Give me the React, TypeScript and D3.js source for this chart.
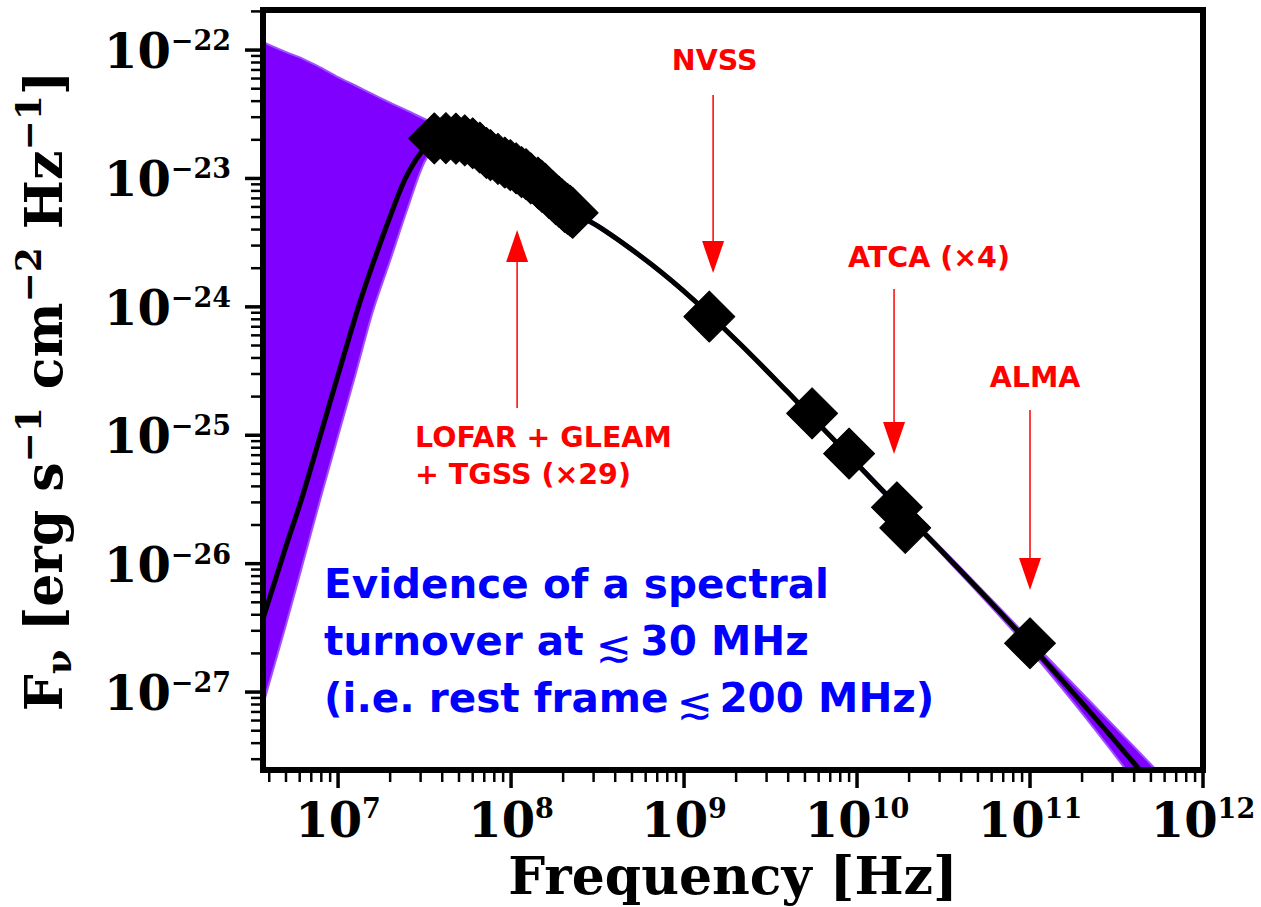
import React from "react";
import * as d3 from "d3";

const W = 1261;
const H = 907;
const PLOT = { left: 263, right: 1203, top: 10, bottom: 770 };

// Best-fit model curve (log10 frequency [Hz], log10 flux density)
const modelLogNu = [6.566, 6.7, 6.786, 6.9, 7.0, 7.127, 7.2, 7.3, 7.4, 7.5, 7.6, 7.7, 7.8, 8.0, 8.2, 8.4, 8.518, 8.807, 9.055, 9.327, 9.598, 9.864, 10.118, 10.539, 11.007, 11.619, 12.0];
const modelLogF = [-26.43, -25.86, -25.51, -24.99, -24.53, -23.96, -23.67, -23.3, -22.97, -22.77, -22.69, -22.715, -22.765, -22.9, -23.08, -23.29, -23.385, -23.665, -23.945, -24.293, -24.662, -25.032, -25.39, -25.971, -26.64, -27.582, -28.21];

// Envelope of the posterior sample curves
const bandLogNu = [6.566, 6.7, 6.8, 6.9, 7.0, 7.1, 7.2, 7.3, 7.4, 7.5, 7.6, 7.7, 7.8, 8.0, 8.2, 8.4, 8.518, 8.807, 9.055, 9.327, 9.598, 9.864, 10.118, 10.539, 11.007, 11.619, 12.0];
const bandUpperLogF = [-21.938, -22.016, -22.07, -22.136, -22.21, -22.276, -22.343, -22.409, -22.471, -22.537, -22.6, -22.66, -22.73, -22.88, -23.065, -23.275, -23.372, -23.653, -23.933, -24.28, -24.648, -25.017, -25.373, -25.948, -26.6, -27.45, -27.99];
const bandLowerLogF = [-27.1, -26.47, -25.98, -25.485, -25.006, -24.53, -24.04, -23.643, -23.24, -22.872, -22.72, -22.74, -22.79, -22.92, -23.095, -23.305, -23.398, -23.677, -23.957, -24.306, -24.676, -25.047, -25.407, -25.995, -26.685, -27.72, -28.43];

// Observed photometry: LOFAR + GLEAM + TGSS (x29), NVSS, ATCA (x4), ALMA
const obsFreqHz = [
  36e6, 42e6, 48e6, 54e6, 60e6, 66e6, 72e6,
  76e6, 84e6, 92e6, 99e6, 107e6, 115e6, 122e6, 130e6, 143e6, 144e6, 150e6, 151e6, 158e6, 166e6, 174e6, 181e6, 189e6, 197e6, 204e6, 212e6, 220e6, 227e6,
  1.4e9,
  5.5e9, 9.0e9, 1.7e10, 1.9e10,
  1.0e11,
];
const obsFlux = [
  2.05e-23, 2.06e-23, 2.04e-23, 1.98e-23, 1.88e-23, 1.74e-23, 1.58e-23,
  1.52e-23, 1.42e-23, 1.33e-23, 1.27e-23, 1.2e-23, 1.12e-23, 1.08e-23, 1.0e-23, 9.3e-24, 9.1e-24, 8.8e-24, 8.6e-24, 8.3e-24, 7.7e-24, 7.3e-24, 6.9e-24, 6.6e-24, 6.3e-24, 6.0e-24, 5.8e-24, 5.6e-24, 5.4e-24,
  8.4e-25,
  1.48e-25, 7.2e-26, 2.75e-26, 1.9e-26,
  2.4e-27,
];

const xTickExps = [7, 8, 9, 10, 11, 12];
const yTickExps = [-27, -26, -25, -24, -23, -22];

// Annotations in data coordinates (log10 nu, log10 F)
const arrowLabels = ["LOFAR + GLEAM", "NVSS", "ATCA (×4)", "ALMA"];
const arrowLogNu = [8.035, 9.168, 10.214, 11.0];
const arrowTailLogF = [-24.788, -22.35, -23.861, -24.804];
const arrowTipLogF = [-23.402, -23.737, -25.146, -26.206];

const x = d3.scaleLog().domain([10 ** 6.566, 1e12]).range([PLOT.left, PLOT.right]);
const y = d3.scaleLog().domain([10 ** -27.607, 10 ** -21.688]).range([PLOT.bottom, PLOT.top]);

const SERIF = "'DejaVu Serif', serif";
const SANS = "'DejaVu Sans', sans-serif";

function minorTicks(scale: any) {
  const [d0, d1] = scale.domain();
  const out: number[] = [];
  for (let e = Math.floor(Math.log10(d0)); e <= Math.ceil(Math.log10(d1)); e++) {
    for (let k = 2; k <= 9; k++) {
      const v = k * 10 ** e;
      if (v >= d0 && v <= d1) out.push(v);
    }
  }
  return out;
}

export default function App() {
  const modelPts = modelLogNu.map((lx, i) => [10 ** lx, 10 ** modelLogF[i]] as [number, number]);
  const line = d3
    .line<[number, number]>()
    .x((d) => x(d[0]))
    .y((d) => y(d[1]))
    .curve(d3.curveCatmullRom.alpha(0.5));
  const bandData = bandLogNu.map((lx, i) => ({ nu: 10 ** lx, hi: 10 ** bandUpperLogF[i], lo: 10 ** bandLowerLogF[i] }));
  const area = d3
    .area<{ nu: number; hi: number; lo: number }>()
    .x((d) => x(d.nu))
    .y0((d) => y(d.lo))
    .y1((d) => y(d.hi))
    .curve(d3.curveMonotoneX);

  const diamond = d3.symbol().type(d3.symbolSquare).size(1300)() as string;

  const xMinor = minorTicks(x);
  const yMinor = minorTicks(y);

  return (
    <svg width={W} height={H} style={{ display: "block", position: "absolute", left: 0, top: 0 }}>
      <rect x={0} y={0} width={W} height={H} fill="#ffffff" />
      <defs>
        <clipPath id="plotclip">
          <rect x={PLOT.left} y={PLOT.top} width={PLOT.right - PLOT.left} height={PLOT.bottom - PLOT.top} />
        </clipPath>
      </defs>

      <g clipPath="url(#plotclip)">
        <path d={area(bandData) as string} fill="#7f00ff" stroke="#a050ff" strokeWidth={2} />
        <path d={line(modelPts) as string} fill="none" stroke="#000" strokeWidth={5} strokeLinejoin="round" />
        {obsFreqHz.map((f, i) => (
          <path
            key={i}
            d={diamond}
            transform={`translate(${x(f)},${y(obsFlux[i])}) rotate(45)`}
            fill="#000"
            stroke="#000"
            strokeWidth={1}
            strokeLinejoin="round"
          />
        ))}
      </g>

      {/* red annotations */}
      {arrowLabels.map((lab, i) => {
        const ax = x(10 ** arrowLogNu[i]);
        const tail = y(10 ** arrowTailLogF[i]);
        const tip = y(10 ** arrowTipLogF[i]);
        const dir = tip < tail ? 1 : -1;
        return (
          <g key={lab}>
            <line x1={ax} y1={tail} x2={ax} y2={tip + dir * 30} stroke="#ff0000" strokeWidth={1.5} />
            <path
              d={`M${ax},${tip} L${ax - 11},${tip + dir * 32} L${ax + 11},${tip + dir * 32} Z`}
              fill="#ff0000"
            />
          </g>
        );
      })}
      <g fontFamily={SANS} fontWeight="bold" fontSize={28.5} fill="#ff0000">
        <text x={x(10 ** 9.177)} y={y(10 ** -22.156)} textAnchor="middle">NVSS</text>
        <text x={x(10 ** 10.416)} y={y(10 ** -23.69)} textAnchor="middle">ATCA (×4)</text>
        <text x={x(10 ** 11.029)} y={y(10 ** -24.625)} textAnchor="middle">ALMA</text>
        <text x={x(10 ** 7.445)} y={y(10 ** -25.092)}>LOFAR + GLEAM</text>
        <text x={x(10 ** 7.445)} y={y(10 ** -25.38)}>+ TGSS (×29)</text>
      </g>

      {/* blue statement */}
      <g fontFamily={SANS} fontWeight="bold" fontSize={40.5} fill="#0000ff">
        <text x={x(10 ** 6.919)} y={y(10 ** -26.268)}>Evidence of a spectral</text>
        <text x={x(10 ** 6.919)} y={y(10 ** -26.712)}>
          turnover at
          <tspan fontWeight="normal" fontSize={43} dx={12} dy={6}>≲</tspan>
          <tspan dx={9} dy={-6}>30 MHz</tspan>
        </text>
        <text x={x(10 ** 6.919)} y={y(10 ** -27.156)}>
          (i.e. rest frame
          <tspan fontWeight="normal" fontSize={43} dx={8} dy={6}>≲</tspan>
          <tspan dx={7} dy={-6}>200 MHz)</tspan>
        </text>
      </g>

      {/* ticks */}
      <g stroke="#000">
        {xMinor.map((v) => (
          <line key={"xm" + v} x1={x(v)} x2={x(v)} y1={PLOT.bottom} y2={PLOT.bottom + 12} strokeWidth={2.5} />
        ))}
        {xTickExps.map((e) => (
          <line key={"xM" + e} x1={x(10 ** e)} x2={x(10 ** e)} y1={PLOT.bottom} y2={PLOT.bottom + 18} strokeWidth={3.5} />
        ))}
        {yMinor.map((v) => (
          <line key={"ym" + v} x1={PLOT.left - 12} x2={PLOT.left} y1={y(v)} y2={y(v)} strokeWidth={2.5} />
        ))}
        {yTickExps.map((e) => (
          <line key={"yM" + e} x1={PLOT.left - 18} x2={PLOT.left} y1={y(10 ** e)} y2={y(10 ** e)} strokeWidth={3.5} />
        ))}
      </g>

      {/* spines */}
      <rect
        x={PLOT.left}
        y={PLOT.top}
        width={PLOT.right - PLOT.left}
        height={PLOT.bottom - PLOT.top}
        fill="none"
        stroke="#000"
        strokeWidth={6}
      />

      {/* tick labels */}
      <g fontFamily={SERIF} fontWeight="bold" fill="#000">
        {xTickExps.map((e) => (
          <text key={"xl" + e} x={x(10 ** e)} y={837} textAnchor="middle" fontSize={48}>
            10<tspan fontSize={27} dy={-19}>{e}</tspan>
          </text>
        ))}
        {yTickExps.map((e) => (
          <text key={"yl" + e} x={231} y={y(10 ** e) + 18} textAnchor="end" fontSize={48}>
            10<tspan fontSize={27} dy={-18}>{"\u2212" + Math.abs(e)}</tspan>
          </text>
        ))}
      </g>

      {/* axis titles */}
      <text x={(PLOT.left + PLOT.right) / 2} y={894} textAnchor="middle" fontFamily={SERIF} fontWeight="bold" fontSize={52}>
        Frequency [Hz]
      </text>
      <text
        transform={`translate(62,${391}) rotate(-90)`}
        textAnchor="middle"
        fontFamily={SERIF}
        fontWeight="bold"
        fontSize={52}
      >
        F<tspan fontSize={36} dy={9}>ν</tspan>
        <tspan dy={-9}> [erg s</tspan>
        <tspan fontSize={36} dy={-21}>−1</tspan>
        <tspan dy={21}> cm</tspan>
        <tspan fontSize={36} dy={-21}>−2</tspan>
        <tspan dy={21}> Hz</tspan>
        <tspan fontSize={36} dy={-21}>−1</tspan>
        <tspan dy={21}>]</tspan>
      </text>
    </svg>
  );
}
